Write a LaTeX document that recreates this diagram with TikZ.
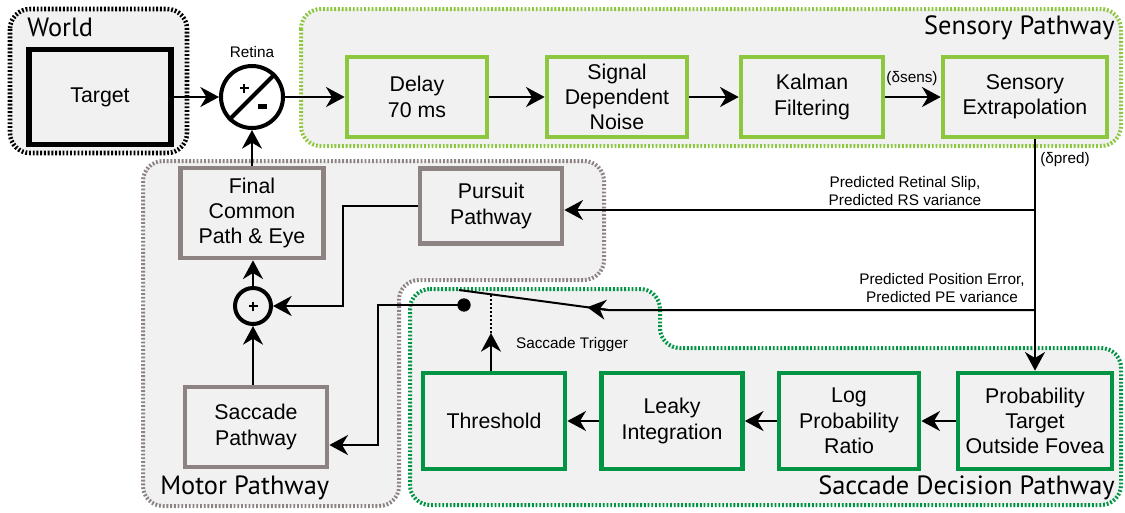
\documentclass[tikz,border=0pt]{standalone}
\usepackage{fontspec}
\setmainfont{Liberation Sans}
\newfontfamily\titlefont{PT Sans}
\usetikzlibrary{arrows.meta,calc}
\definecolor{regfill}{HTML}{F1F1F1}
\definecolor{lime}{HTML}{8DC63F}
\definecolor{dgreen}{HTML}{009444}
\definecolor{mgray}{HTML}{8E8383}
\begin{document}
\begin{tikzpicture}[x=0.75pt,y=-0.75pt,
  region/.style={fill=regfill, line width=3pt, dash pattern=on 1.4pt off 1.4pt, rounded corners=15pt},
  box/.style={draw, fill=regfill, line width=3.5pt, inner sep=0pt, align=center, font=\fontsize{16}{19}\selectfont},
  sbox/.style={box, draw=lime},
  dbox/.style={box, draw=dgreen},
  mbox/.style={box, draw=mgray},
  arr/.style={line width=1.5pt, -{Stealth[length=14pt,width=15pt,inset=4.5pt]}},
  conn/.style={line width=1.5pt},
  lbl/.style={font=\fontsize{11.5}{13.5}\selectfont, align=center, inner sep=0pt},
  ttl/.style={font=\titlefont\fontsize{19.8}{22}\selectfont, inner sep=0pt},
]
\useasboundingbox (0,0) rectangle (1125,512);

% regions
\draw[region, draw=black, line width=3.4pt] (10,9) rectangle (187,153);
\draw[region, draw=lime] (301,9) rectangle (1121,146);
\draw[region, draw=mgray] (143,161) -- (604,161) -- (604,280) -- (399,280) -- (399,506) -- (143,506) -- cycle;
\draw[region, draw=dgreen] (410,289) -- (660,289) -- (660,348) -- (1121,348) -- (1121,505) -- (410,505) -- cycle;

% titles
\node[ttl, anchor=west] (tworld) at (27,27) {World};
\node[ttl, anchor=east] (tsens) at (1115,28) {Sensory Pathway};
\node[ttl, anchor=west] (tmotor) at (160,488) {Motor Pathway};
\node[ttl, anchor=east] (tsacc) at (1115,488) {Saccade Decision Pathway};

% world
\node[box, draw=black, line width=3.8pt, minimum width=106.5pt, minimum height=71.25pt] (target) at (100,97) {Target};

% retina
\node[circle, draw, fill=white, line width=3pt, minimum size=46.5pt, inner sep=0pt] (retina) at (252,97) {};
\draw[line width=3pt] (retina.225) -- (retina.45);
\draw[line width=2.2pt] (239.5,88) -- (248.5,88) (244,83.5) -- (244,92.5);
\fill (258,104) rectangle (267,109);
\node[lbl] (retlbl) at (252,52) {Retina};

% sensory
\node[sbox, minimum width=105pt, minimum height=60pt] (delay) at (417,97) {Delay\\70 ms};
\node[sbox, minimum width=105pt, minimum height=60pt] (sdn) at (617,97) {Signal\\Dependent\\Noise};
\node[sbox, minimum width=106.5pt, minimum height=60pt] (kalman) at (812,97) {Kalman\\Filtering};
\node[sbox, minimum width=123pt, minimum height=60pt] (sens) at (1025,97) {Sensory\\Extrapolation};

% motor
\node[mbox, minimum width=107.25pt, minimum height=67.5pt] (final) at (252,213) {Final\\Common\\Path \& Eye};
\node[mbox, minimum width=106.5pt, minimum height=56.25pt] (pursuit) at (491,206) {Pursuit\\Pathway};
\node[circle, draw, fill=regfill, line width=3pt, minimum size=27pt, inner sep=0pt] (sum) at (253,306) {};
\draw[line width=1.8pt] (248.5,306) -- (257.5,306) (253,301.5) -- (253,310.5);
\node[mbox, minimum width=106.5pt, minimum height=60pt] (sacc) at (256,427) {Saccade\\Pathway};

% saccade decision
\node[dbox, minimum width=106.5pt, minimum height=72pt] (thr) at (494,421) {Threshold};
\node[dbox, minimum width=105.75pt, minimum height=72pt] (leaky) at (672,421) {Leaky\\Integration};
\node[dbox, minimum width=105pt, minimum height=72pt] (lpr) at (849,421) {Log\\Probability\\Ratio};
\node[dbox, minimum width=115.5pt, minimum height=72pt] (prob) at (1035,421) {Probability\\Target\\Outside Fovea};

% labels
\node[lbl] (dsens) at (912,79) {(δsens)};
\node[lbl, anchor=west] (dpred) at (1040,160) {(δpred)};
\node[lbl] (rslbl) at (905,191) {Predicted Retinal Slip,\\Predicted RS variance};
\node[lbl] (pelbl) at (942,288) {Predicted Position Error,\\Predicted PE variance};
\node[lbl] (trlbl) at (572,345) {Saccade Trigger};

% coordinates
\coordinate (rs) at (1035,210);
\coordinate (pe) at (1035,310);
\coordinate (sw1) at (608,310);
\coordinate (sw2) at (459,290);
\coordinate (trtop) at (491,294);
\coordinate (tr) at (491,333);
\coordinate (pj) at (343,306);
\coordinate (sj) at (378,445);
\node[circle, fill, inner sep=0pt, minimum size=10pt] (dot) at (464,305) {};

% connectors
\draw[arr] (target.east) -- (retina.west);
\draw[arr] (retina.east) -- (delay.west);
\draw[arr] (delay) -- (sdn);
\draw[arr] (sdn) -- (kalman);
\draw[arr] (kalman) -- (sens);
\draw[arr] (sens.south -| prob.north) -- (prob.north);
\draw[arr] (rs) -- (rs -| pursuit.east);
\draw[conn] (pe) -- (sw1) -- (sw2);
\draw[arr] (sw1) -- ($(sw1)!0.14!(sw2)$);
\draw[arr] (dot.center) -| (sj) -- (sj -| sacc.east);
\draw[arr] (thr.north -| tr) -- (tr);
\draw[conn, dash pattern=on 1.5pt off 1.5pt] (tr) -- (trtop);
\draw[arr] (pursuit.west) -| (pj) -- (sum.east);
\draw[arr] (sacc.north -| sum) -- (sum.south);
\draw[arr] (sum.north) -- (sum.north |- final.south);
\draw[arr] (final.north) -- (final.north |- retina.south);
\draw[arr] (prob) -- (lpr);
\draw[arr] (lpr) -- (leaky);
\draw[arr] (leaky) -- (thr);
\end{tikzpicture}
\end{document}
